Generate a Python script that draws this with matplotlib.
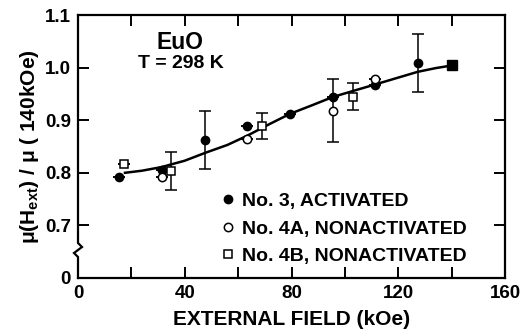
import matplotlib
matplotlib.use("Agg")
import matplotlib.pyplot as plt
from matplotlib.lines import Line2D
from matplotlib.ticker import FixedLocator, FuncFormatter

plt.rcParams['font.family'] = ['Liberation Sans', 'DejaVu Sans']
plt.rcParams['font.weight'] = 'bold'
plt.rcParams['mathtext.fontset'] = 'custom'
plt.rcParams['mathtext.rm'] = 'Liberation Sans:bold'
plt.rcParams['mathtext.it'] = 'Liberation Sans:bold'
plt.rcParams['mathtext.bf'] = 'Liberation Sans:bold'

# ---- data ----
no3_x = [15.5, 31.4, 47.7, 63.2, 79.4, 95.4, 111.4, 127.3]
no3_y = [0.792, 0.806, 0.862, 0.889, 0.912, 0.945, 0.967, 1.008]
no3_err = [0.0, 0.0, 0.055, 0.0, 0.0, 0.0, 0.0, 0.055]

no4a_x = [31.4, 63.2, 95.4, 111.4]
no4a_y = [0.792, 0.864, 0.918, 0.979]
no4a_err = [0.0, 0.0, 0.060, 0.0]

no4b_x = [17.3, 34.7, 68.8, 103.2]
no4b_y = [0.817, 0.803, 0.889, 0.945]
no4b_err = [0.0, 0.036, 0.024, 0.025]

ref_x = [140.0]
ref_y = [1.004]

fit_x = [17.6, 24.0, 31.4, 40.0, 47.7, 56.0, 63.2, 71.9, 79.4, 88.0, 95.4, 104.0, 111.4, 120.0, 127.3, 134.0, 140.0]
fit_y = [0.800, 0.804, 0.811, 0.823, 0.838, 0.853, 0.870, 0.893, 0.912, 0.929, 0.944, 0.957, 0.968, 0.981, 0.992, 0.999, 1.004]

x_ticks = [0, 20, 40, 60, 80, 100, 120, 140, 160]
y_ticks = [0.6, 0.7, 0.8, 0.9, 1.0, 1.1]
y_tick_labels = ['0', '0.7', '0.8', '0.9', '1.0', '1.1']

labels = ['No. 3, ACTIVATED', 'No. 4A, NONACTIVATED', 'No. 4B, NONACTIVATED']

# ---- figure ----
fig = plt.figure(figsize=(5.22, 3.30), dpi=100)
ax = fig.add_axes([78/522, 1-278/330, (505-78)/522, (278-15)/330])

ax.plot(fit_x, fit_y, color='black', lw=1.8, zorder=2)

ekw = dict(ecolor='black', elinewidth=1.1, capsize=4.5, capthick=1.1, ls='none', zorder=3)
ax.errorbar(no3_x, no3_y, yerr=no3_err, fmt='o', ms=6, mfc='black', mec='black', **ekw)
ax.errorbar(no4a_x, no4a_y, yerr=no4a_err, fmt='o', ms=6, mfc='white', mec='black', mew=1.1, **ekw)
ax.errorbar(no4b_x, no4b_y, yerr=no4b_err, fmt='s', ms=6, mfc='white', mec='black', mew=1.1, **ekw)
ax.plot(ref_x, ref_y, 's', ms=7, mfc='black', mec='black', zorder=4)

ax.set_xlim(0, 160)
ax.set_ylim(0.6, 1.1)
ax.xaxis.set_major_locator(FixedLocator(x_ticks))
ax.xaxis.set_major_formatter(FuncFormatter(lambda v, p: f"{int(v)}" if int(round(v)) % 40 == 0 else ""))
ax.set_yticks(y_ticks)
ax.set_yticklabels(y_tick_labels)

ax.tick_params(direction='in', length=8, width=1.4, top=True, right=True,
               labelsize=13.5, pad=5)
for lab in ax.get_xticklabels() + ax.get_yticklabels():
    lab.set_fontweight('bold')

for s in ax.spines.values():
    s.set_linewidth(1.6)
ax.spines['left'].set_visible(False)

# left spine drawn with a break mark
px = 1/427
py = 1/263
yb1 = (278-243)*py
yb2 = (278-247)*py
yb3 = (278-253)*py
yb4 = (278-257)*py
ax.add_line(Line2D([0, 0, 4*px, -4*px, 0, 0], [1, yb1, yb2, yb3, yb4, 0],
                   transform=ax.transAxes, color='black', lw=1.6, clip_on=False,
                   solid_joinstyle='miter'))

ax.set_xlabel('EXTERNAL FIELD (kOe)', fontsize=15, fontweight='bold', labelpad=6)
ax.set_ylabel(r'μ(H$_{\mathrm{ext}}$) / μ ( 140kOe)', fontsize=15, fontweight='bold', labelpad=3)

ax.text(0.239, 0.897, 'EuO', transform=ax.transAxes, ha='center', va='center',
        fontsize=16.5, fontweight='bold')
ax.text(0.241, 0.814, 'T = 298 K', transform=ax.transAxes, ha='center', va='center',
        fontsize=14, fontweight='bold')

handles = [
    Line2D([], [], ls='none', marker='o', ms=6, mfc='black', mec='black'),
    Line2D([], [], ls='none', marker='o', ms=6, mfc='white', mec='black', mew=1.1),
    Line2D([], [], ls='none', marker='s', ms=6, mfc='white', mec='black', mew=1.1),
]
leg = ax.legend(handles, labels, loc='lower left', bbox_to_anchor=(0.338, 0.05),
                frameon=False, prop={'size': 14, 'weight': 'bold'},
                handlelength=0.6, handletextpad=0.4, labelspacing=0.5,
                borderaxespad=0, borderpad=0)

fig.savefig('out.png', dpi=100)
